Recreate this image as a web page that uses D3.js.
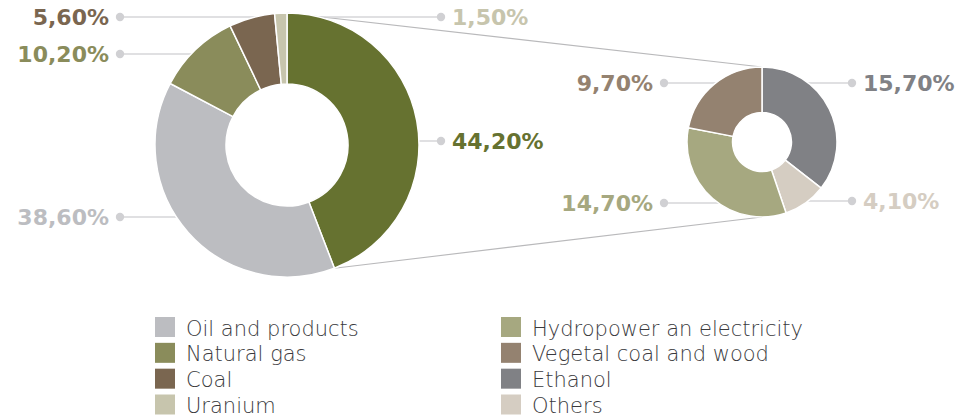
<!DOCTYPE html>
<html>
<head>
<meta charset="utf-8">
<script src="https://cdn.jsdelivr.net/npm/d3@7"></script>
<style>
  html, body { margin: 0; padding: 0; background: #fff; }
  svg { display: block; }
</style>
</head>
<body>
<svg id="chart" width="958" height="418"></svg>
<script>
// Energy matrix: main breakdown and the renewable share broken down on the right
const mainCategories = ["Renewables", "Oil and products", "Natural gas", "Coal", "Uranium"];
const mainValues     = [44.2, 38.6, 10.2, 5.6, 1.5];
const mainColors     = ["#667230", "#bcbdc1", "#8a8c5b", "#7a6650", "#c7c5ad"];

const subCategories  = ["Ethanol", "Others", "Hydropower an electricity", "Vegetal coal and wood"];
const subValues      = [15.7, 4.1, 14.7, 9.7];
const subColors      = ["#808185", "#d5cdc2", "#a6a880", "#948270"];

const legendCol1 = ["Oil and products", "Natural gas", "Coal", "Uranium"];
const legendCol2 = ["Hydropower an electricity", "Vegetal coal and wood", "Ethanol", "Others"];

const colorOf = {};
mainCategories.forEach((c, i) => colorOf[c] = mainColors[i]);
subCategories.forEach((c, i) => colorOf[c] = subColors[i]);

const svg = d3.select("#chart");
const fmt = d3.formatLocale({ decimal: ",", thousands: ".", grouping: [3], currency: ["", ""] }).format(".2f");

// Geometry (gap = distance from the outer edge to the callout dot, per side)
const main = { cx: 287, cy: 145, ro: 132, ri: 61, gap: { left: 35, right: 22 } };
const sub  = { cx: 762, cy: 142, ro: 75,  ri: 29.5, gap: { left: 23, right: 15 } };

// Label rows: side of the chart and vertical position of each callout
const mainLabelLayout = [
  { side: "right", y: 141 },
  { side: "left",  y: 217 },
  { side: "left",  y: 54 },
  { side: "left",  y: 17 },
  { side: "right", y: 17 }
];
const subLabelLayout = [
  { side: "right", y: 83 },
  { side: "right", y: 201 },
  { side: "left",  y: 203 },
  { side: "left",  y: 83 }
];

const pie = d3.pie().sort(null).value(d => d).startAngle(0).endAngle(2 * Math.PI);
const mainArcs = pie(mainValues);
const subArcs = pie(subValues);

const gLines = svg.append("g");
const gPies = svg.append("g");
const gLabels = svg.append("g");

// Connectors from the renewable slice edges to the top and bottom of the detail donut
const polar = (c, r, a) => [c.cx + r * Math.sin(a), c.cy - r * Math.cos(a)];
const startPt = polar(main, main.ro, mainArcs[0].startAngle);
const endPt = polar(main, main.ro, mainArcs[0].endAngle);
gLines.append("line")
  .attr("x1", startPt[0]).attr("y1", startPt[1])
  .attr("x2", sub.cx).attr("y2", sub.cy - sub.ro)
  .attr("stroke", "#b9b9bb").attr("stroke-width", 1.1);
gLines.append("line")
  .attr("x1", endPt[0]).attr("y1", endPt[1])
  .attr("x2", sub.cx).attr("y2", sub.cy + sub.ro)
  .attr("stroke", "#b9b9bb").attr("stroke-width", 1.1);

function drawDonut(c, arcs, colors, values, layout) {
  const arc = d3.arc().innerRadius(c.ri).outerRadius(c.ro);
  const g = gPies.append("g").attr("transform", `translate(${c.cx},${c.cy})`);
  g.selectAll("path").data(arcs).join("path")
    .attr("d", arc)
    .attr("fill", (d, i) => colors[i])
    .attr("stroke", "#fff").attr("stroke-width", 1.5).attr("stroke-linejoin", "round");

  const rMid = (c.ri + c.ro) / 2;
  layout.forEach((L, i) => {
    const dir = L.side === "right" ? 1 : -1;
    const dotX = c.cx + dir * (c.ro + c.gap[L.side]);
    const dy = L.y - c.cy;
    const inner = c.cx + dir * Math.sqrt(Math.max(0, rMid * rMid - dy * dy));
    gLines.append("line")
      .attr("x1", dotX).attr("y1", L.y).attr("x2", inner).attr("y2", L.y)
      .attr("stroke", "#d6d6d8").attr("stroke-width", 1.6);
    gLabels.append("circle")
      .attr("cx", dotX).attr("cy", L.y).attr("r", 4.2).attr("fill", "#d0d0d3");
    gLabels.append("text")
      .attr("x", dotX + dir * 11).attr("y", L.y + 8)
      .attr("text-anchor", dir > 0 ? "start" : "end")
      .attr("font-family", "DejaVu Sans")
      .attr("font-weight", "bold")
      .attr("font-size", 22)
      .attr("fill", colors[i])
      .text(fmt(values[i]) + "%");
  });
}

drawDonut(main, mainArcs, mainColors, mainValues, mainLabelLayout);
drawDonut(sub, subArcs, subColors, subValues, subLabelLayout);

// Legend in two columns
const legend = svg.append("g");
const rowY = d3.scaleLinear().domain([0, 3]).range([327, 404.5]);
[[legendCol1, 155], [legendCol2, 501]].forEach(([items, x0]) => {
  items.forEach((name, i) => {
    const y = rowY(i);
    legend.append("rect")
      .attr("x", x0).attr("y", y - 10).attr("width", 20).attr("height", 20)
      .attr("fill", colorOf[name]);
    legend.append("text")
      .attr("x", x0 + 31).attr("y", y + 8.5)
      .attr("font-family", "DejaVu Sans")
      .attr("font-weight", 200)
      .attr("font-size", 21)
      .attr("fill", "#3a3a3d")
      .text(name);
  });
});
</script>
</body>
</html>
